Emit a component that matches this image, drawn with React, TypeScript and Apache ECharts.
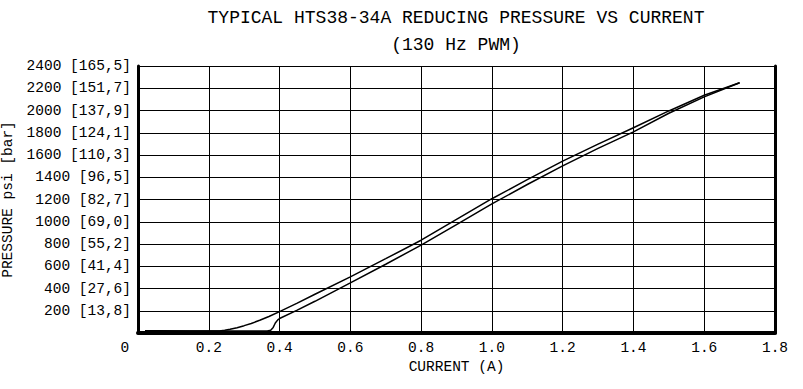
import React, { useEffect, useRef } from "react";
import * as echarts from "echarts";

const titleLine1 = "TYPICAL HTS38-34A REDUCING PRESSURE VS CURRENT";
const titleLine2 = "(130 Hz PWM)";
const xAxisName = "CURRENT (A)";
const yAxisName = "PRESSURE psi [bar]";

const psiTicks = [200, 400, 600, 800, 1000, 1200, 1400, 1600, 1800, 2000, 2200, 2400];
const barLabels = ["13,8", "27,6", "41,4", "55,2", "69,0", "82,7", "96,5", "110,3", "124,1", "137,9", "151,7", "165,5"];

// increasing current (lower branch)
const currentUp = [0.02, 0.1, 0.2, 0.3, 0.365, 0.375, 0.382, 0.388, 0.395, 0.4, 0.45, 0.5, 0.6, 0.7, 0.8, 0.9, 1.0, 1.1, 1.2, 1.3, 1.4, 1.5, 1.6, 1.7];
const pressureUp = [20, 18, 17, 18, 19, 25, 50, 90, 118, 130, 205, 285, 450, 618, 790, 975, 1160, 1335, 1502, 1660, 1808, 1975, 2122, 2250];

// decreasing current (upper branch)
const currentDown = [1.7, 1.6, 1.5, 1.4, 1.3, 1.2, 1.1, 1.0, 0.9, 0.8, 0.7, 0.6, 0.5, 0.45, 0.4, 0.37, 0.344, 0.32, 0.3, 0.28, 0.26, 0.245, 0.23, 0.2, 0.15, 0.05, 0.02];
const pressureDown = [2250, 2137, 1996, 1845, 1698, 1545, 1378, 1207, 1022, 834, 668, 505, 348, 268, 192, 148, 114, 86, 66, 48, 33, 24, 19, 17, 18, 20, 20];

const FONT = "'Liberation Mono', 'DejaVu Sans Mono', monospace";

export default function App() {
  const ref = useRef<HTMLDivElement>(null);
  useEffect(() => {
    if (!ref.current) return;
    const chart = echarts.init(ref.current, undefined, { renderer: "svg" });
    const up = currentUp.map((c, i) => [c, pressureUp[i]]);
    const down = currentDown.map((c, i) => [c, pressureDown[i]]);
    chart.setOption({
      animation: false,
      backgroundColor: "#ffffff",
      title: {
        text: titleLine1 + "\n" + titleLine2,
        left: 456,
        top: 4,
        textAlign: "center",
        padding: 0,
        textStyle: {
          fontFamily: FONT,
          fontSize: 18,
          fontWeight: "normal",
          color: "#000",
          lineHeight: 27,
        },
      },
      grid: { left: 138, right: 28, top: 66, bottom: 56, containLabel: false, outerBoundsMode: "none" },
      xAxis: {
        type: "value",
        min: 0,
        max: 1.8,
        interval: 0.2,
        name: xAxisName,
        nameLocation: "middle",
        nameGap: 26,
        nameTextStyle: { fontFamily: FONT, fontSize: 14.5, color: "#000" },
        axisLine: { show: true, lineStyle: { color: "#000", width: 4 } },
        axisTick: { show: false },
        splitLine: { show: true, lineStyle: { color: "#000", width: 1 } },
        axisLabel: {
          fontFamily: FONT,
          fontSize: 14.5,
          color: "#000",
          margin: 7,
          formatter: (v: number) => (v === 0 ? "0\u00a0\u00a0\u00a0" : v.toFixed(1)),
        },
      },
      yAxis: [
        {
          type: "value",
          min: 0,
          max: 2400,
          interval: 200,
          name: yAxisName,
          nameLocation: "middle",
          nameGap: 113,
          nameRotate: 90,
          nameTextStyle: { fontFamily: FONT, fontSize: 14.5, color: "#000" },
          axisLine: { show: true, lineStyle: { color: "#000", width: 3 } },
          axisTick: { show: false },
          splitLine: { show: true, lineStyle: { color: "#000", width: 1 } },
          axisLabel: {
            fontFamily: FONT,
            fontSize: 14.5,
            color: "#000",
            margin: 7,
            formatter: (v: number) => {
              const idx = psiTicks.indexOf(v);
              return idx < 0 ? "" : `${v} [${barLabels[idx]}]`;
            },
          },
        },
        {
          type: "value",
          min: 0,
          max: 2400,
          interval: 200,
          position: "right",
          axisLine: { show: true, lineStyle: { color: "#000", width: 3 } },
          axisTick: { show: false },
          axisLabel: { show: false },
          splitLine: { show: false },
        },
      ],
      series: [
        {
          type: "line",
          data: up,
          showSymbol: false,
          smooth: false,
          lineStyle: { color: "#000", width: 1.5 },
          yAxisIndex: 0,
        },
        {
          type: "line",
          data: down,
          showSymbol: false,
          smooth: false,
          lineStyle: { color: "#000", width: 1.5 },
          yAxisIndex: 0,
        },
      ],
    });
    return () => chart.dispose();
  }, []);
  return (
    <div
      ref={ref}
      style={{ position: "fixed", left: 0, top: 0, width: 803, height: 389, background: "#fff" }}
    />
  );
}
